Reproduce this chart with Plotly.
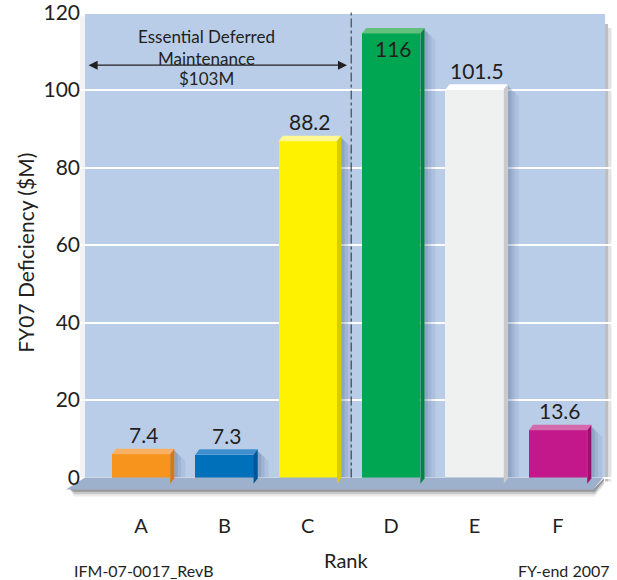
import plotly.graph_objects as go

# Deficiency by rank, FY07 ($M)
categories = ["A", "B", "C", "D", "E", "F"]
values = [7.4, 7.3, 88.2, 116, 101.5, 13.6]
value_labels = ["7.4", "7.3", "88.2", "116", "101.5", "13.6"]
y_ticks = [0, 20, 40, 60, 80, 100, 120]

front_colors = ["#F7941D", "#0070BA", "#FFF200", "#00A651", "#EFF0F0", "#C2188B"]
top_colors = ["#FAB062", "#3F8FCF", "#FFF78F", "#62BF7C", "#FFFFFF", "#D46AAE"]
side_colors = ["#D47A12", "#005696", "#D8CB00", "#00843F", "#C9CACB", "#9A0F6E"]

FONT = "Lato"
TEXT = "#231F20"
BAR_W = 0.70      # bar width in category units
DX = 0.05         # depth offset to the right (category units)
DY = 1.4          # depth offset upwards (value units)
BASE = -1.6       # front face starts slightly in front of the floor line

xs = list(range(len(categories)))
fig = go.Figure()

# soft drop shadows to the right of each bar
for x, v in zip(xs, values):
    xr = x + BAR_W / 2 + DX
    for k, a in [(0.13, 0.08), (0.08, 0.10), (0.04, 0.12)]:
        fig.add_trace(go.Scatter(
            x=[xr, xr + k, xr + k, xr],
            y=[v - 0.5, v - 0.5 - k * 20, 0, 0],
            fill="toself", fillcolor=f"rgba(40,60,110,{a})",
            line=dict(width=0), mode="lines", hoverinfo="skip", showlegend=False))

# floor slab
fig.add_trace(go.Scatter(
    x=[-0.671, 5.54, 5.42, -0.899, -0.671],
    y=[0, 0, -3.1, -3.1, 0],
    fill="toself", fillcolor="#9DB0CC", line=dict(width=0),
    mode="lines", hoverinfo="skip", showlegend=False))
# floor shadow underneath
for k, a in [(0.6, 0.35), (1.2, 0.2), (1.8, 0.1)]:
    fig.add_trace(go.Scatter(
        x=[-0.85, 5.42, 5.55, 5.55, 5.42 + 0.02, -0.8],
        y=[-3.1, -3.1, -0.2, -0.2 - k, -3.1 - k, -3.1 - k],
        fill="toself", fillcolor=f"rgba(60,60,70,{a})", line=dict(width=0),
        mode="lines", hoverinfo="skip", showlegend=False))

# front faces
fig.add_trace(go.Bar(
    x=xs, y=[v - DY - BASE for v in values], base=BASE, width=BAR_W,
    marker=dict(color=front_colors, line=dict(width=0)),
    hoverinfo="skip", showlegend=False))

# top and side faces
for x, v, tc, sc in zip(xs, values, top_colors, side_colors):
    xl, xr = x - BAR_W / 2, x + BAR_W / 2
    fig.add_trace(go.Scatter(
        x=[xl, xr, xr + DX, xl + DX, xl],
        y=[v - DY, v - DY, v, v, v - DY],
        fill="toself", fillcolor=tc, line=dict(width=0),
        mode="lines", hoverinfo="skip", showlegend=False))
    fig.add_trace(go.Scatter(
        x=[xr, xr + DX, xr + DX, xr, xr],
        y=[v - DY, v, BASE + DY, BASE, v - DY],
        fill="toself", fillcolor=sc, line=dict(width=0),
        mode="lines", hoverinfo="skip", showlegend=False))

shapes = [
    # faint shadow along the panel's left edge
    dict(type="rect", xref="x", yref="y", x0=-0.73, x1=-0.671, y0=0, y1=119,
         fillcolor="rgba(90,90,100,0.08)", line=dict(width=0), layer="below"),
    # plot panel
    dict(type="rect", xref="x", yref="y", x0=-0.671, x1=5.564, y0=0, y1=120,
         fillcolor="#B9CDE8", line=dict(width=0), layer="below"),
    # panel edge shadow on the right
    dict(type="rect", xref="x", yref="y", x0=5.564, x1=5.60, y0=-1, y1=117,
         fillcolor="rgba(70,70,80,0.35)", line=dict(width=0), layer="below"),
    dict(type="rect", xref="x", yref="y", x0=5.60, x1=5.64, y0=-1, y1=116,
         fillcolor="rgba(70,70,80,0.15)", line=dict(width=0), layer="below"),
    # divider between essential and other deferred maintenance
    dict(type="line", xref="x", yref="y", x0=2.52, x1=2.52, y0=0, y1=120,
         line=dict(color="#2B2B2B", width=1, dash="dashdot"), layer="above"),
]

annotations = []
# value labels
for x, v, lab in zip(xs, values, value_labels):
    inside = v > 110
    annotations.append(dict(
        x=x + DX / 2, y=v - 5.2 if inside else v + 3.6, xref="x", yref="y",
        text=lab, showarrow=False, xanchor="center", yanchor="middle",
        font=dict(family=FONT, size=21, color=TEXT)))

# double-headed arrow across the essential range
annotations.append(dict(
    x=2.47, y=106.4, ax=-0.647, ay=106.4, xref="x", yref="y", axref="x", ayref="y",
    text="", showarrow=True, arrowhead=2, arrowside="end+start",
    arrowsize=1.4, arrowwidth=1.3, arrowcolor=TEXT))
annotations.append(dict(
    x=0.79, y=111.0, xref="x", yref="y", text="Essential Deferred<br>Maintenance",
    showarrow=False, xanchor="center", yanchor="middle",
    font=dict(family=FONT, size=17, color=TEXT)))
annotations.append(dict(
    x=0.79, y=103.0, xref="x", yref="y", text="$103M",
    showarrow=False, xanchor="center", yanchor="middle",
    font=dict(family=FONT, size=17, color=TEXT)))

annotations += [
    dict(x=0.518, y=-0.1224, xref="paper", yref="paper", text="Rank", showarrow=False,
         xanchor="center", yanchor="middle",
         font=dict(family=FONT, size=20, color=TEXT)),
    dict(x=-0.063, y=0.505, xref="paper", yref="paper", text="FY07 Deficiency ($M)",
         textangle=-90, showarrow=False, xanchor="center", yanchor="middle",
         font=dict(family=FONT, size=21, color=TEXT)),
    dict(x=0.151, y=-0.143, xref="paper", yref="paper", text="IFM-07-0017_RevB",
         showarrow=False, xanchor="center", yanchor="middle",
         font=dict(family=FONT, size=16, color=TEXT)),
    dict(x=0.913, y=-0.143, xref="paper", yref="paper", text="FY-end 2007",
         showarrow=False, xanchor="center", yanchor="middle",
         font=dict(family=FONT, size=16, color=TEXT)),
]

fig.update_layout(
    width=617, height=580,
    margin=dict(l=60, r=5, t=10, b=80, autoexpand=False),
    paper_bgcolor="white", plot_bgcolor="white",
    shapes=shapes, annotations=annotations,
    xaxis=dict(range=[-0.971, 5.647], tickvals=xs, ticktext=categories,
               showgrid=False, zeroline=False, showline=False, ticks="",
               ticklabelstandoff=12, automargin=False,
               tickfont=dict(family=FONT, size=20, color=TEXT)),
    yaxis=dict(range=[-5.806, 120.645], tickvals=y_ticks, anchor="free",
               position=25 / 552, showgrid=True, gridcolor="white", gridwidth=1.5,
               zeroline=False, showline=False, ticks="", automargin=False,
               ticklabelstandoff=5, ticklabeloverflow="allow",
               tickfont=dict(family=FONT, size=21, color=TEXT)),
    bargap=0,
)

fig.write_html("out.html")
